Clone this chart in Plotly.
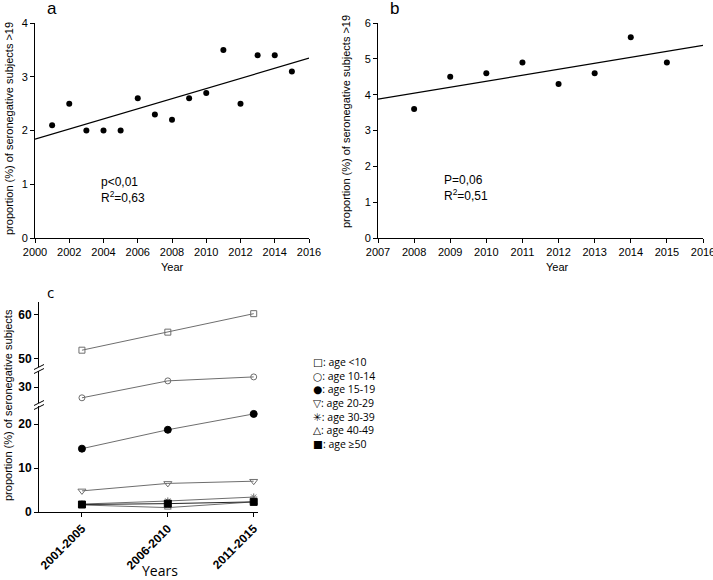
import numpy as np
import plotly.graph_objects as go

W, H = 713, 580

# ---------------- data ----------------
years_a = [2001, 2002, 2003, 2004, 2005, 2006, 2007, 2008, 2009, 2010, 2011, 2012, 2013, 2014, 2015]
prop_a = [2.1, 2.5, 2.0, 2.0, 2.0, 2.6, 2.3, 2.2, 2.6, 2.7, 3.5, 2.5, 3.4, 3.4, 3.1]

years_b = [2008, 2009, 2010, 2011, 2012, 2013, 2014, 2015]
prop_b = [3.6, 4.5, 4.6, 4.9, 4.3, 4.6, 5.6, 4.9]

periods = ["2001-2005", "2006-2010", "2011-2015"]
age_lt10 = [52.0, 56.1, 60.3]
age_10_14 = [27.0, 31.7, 32.8]
age_15_19 = [14.4, 18.7, 22.3]
age_20_29 = [4.8, 6.5, 7.0]
age_30_39 = [1.8, 2.5, 3.4]
age_40_49 = [1.6, 1.0, 2.3]
age_ge50 = [1.7, 1.9, 2.3]

stats_a = ["p<0,01", "R<sup>2</sup>=0,63"]
stats_b = ["P=0,06", "R<sup>2</sup>=0,51"]

leg_labels = ["age <10", "age 10-14", "age 15-19", "age 20-29", "age 30-39", "age 40-49", "age \u226550"]
leg_syms = ["\u25a1", "\u25cb", "\u25cf", "\u25bd", "\u2733", "\u25b3", "\u25a0"]


def px(x):
    return x / W


def py(y):
    return 1 - y / H


fig = go.Figure()

AX = "#000000"
TF = dict(family="Liberation Sans, Arial, sans-serif", size=11, color="#000")

# ---------------- panel a ----------------
fig.add_trace(go.Scatter(x=years_a, y=prop_a, mode="markers",
                         marker=dict(color="black", size=6), xaxis="x", yaxis="y",
                         showlegend=False))
ka = np.polyfit(years_a, prop_a, 1)
xa = np.array([2000, 2016])
fig.add_trace(go.Scatter(x=xa, y=np.polyval(ka, xa), mode="lines",
                         line=dict(color="black", width=1.2), xaxis="x", yaxis="y",
                         showlegend=False))

# ---------------- panel b ----------------
fig.add_trace(go.Scatter(x=years_b, y=prop_b, mode="markers",
                         marker=dict(color="black", size=6), xaxis="x2", yaxis="y2",
                         showlegend=False))
kb = np.polyfit(years_b, prop_b, 1)
xb = np.array([2007, 2016])
fig.add_trace(go.Scatter(x=xb, y=np.polyval(kb, xb), mode="lines",
                         line=dict(color="black", width=1.2), xaxis="x2", yaxis="y2",
                         showlegend=False))

# ---------------- panel c ----------------
GREY = "#6e6e6e"
xi = [0, 1, 2]
series_c = [
    (age_lt10, "square-open", GREY, "y5", 6, GREY),
    (age_10_14, "circle-open", GREY, "y4", 6, GREY),
    (age_15_19, "circle", "black", "y3", 7, GREY),
    (age_20_29, "triangle-down-open", GREY, "y3", 7, GREY),
    (age_30_39, "asterisk-open", GREY, "y3", 6, GREY),
    (age_40_49, "triangle-up-open", GREY, "y3", 6, GREY),
    (age_ge50, "square", "black", "y3", 7, "#222222"),
]
for vals, sym, mcol, yax, size, lcol in series_c:
    fig.add_trace(go.Scatter(x=xi, y=vals, mode="lines+markers",
                             line=dict(color=lcol, width=1),
                             marker=dict(symbol=sym, color=mcol, size=size,
                                         line=dict(color=mcol, width=1)),
                             xaxis="x3", yaxis=yax, showlegend=False))

common = dict(showline=True, linecolor=AX, linewidth=1, ticks="outside", ticklen=4,
              tickcolor=AX, showgrid=False, zeroline=False, tickfont=TF)

cbold = dict(family="Liberation Sans, Arial, sans-serif", size=12, color="#000", weight="bold")
ccommon = dict(showline=True, linecolor=AX, linewidth=1, ticks="outside", ticklen=4,
               tickcolor=AX, showgrid=False, zeroline=False, tickfont=cbold)

fig.update_layout(
    width=W, height=H, margin=dict(l=0, r=0, t=0, b=0, autoexpand=False),
    paper_bgcolor="white", plot_bgcolor="white",
    xaxis=dict(domain=[px(35), px(309)], range=[2000, 2016], dtick=2, anchor="y", **common),
    yaxis=dict(domain=[py(238), py(23)], range=[0, 4], dtick=1, anchor="x", **common),
    xaxis2=dict(domain=[px(378), px(703)], range=[2007, 2016], dtick=1, anchor="y2",
                ticklabeloverflow="allow", **common),
    yaxis2=dict(domain=[py(238), py(23)], range=[0, 6], dtick=1, anchor="x2", **common),
    xaxis3=dict(domain=[px(39), px(258)], range=[-0.5, 2.05], anchor="y3",
                tickvals=xi, ticktext=periods, tickangle=-45, **ccommon),
    yaxis3=dict(domain=[py(512), py(406)], range=[0, 24.1], tickvals=[0, 10, 20],
                anchor="x3", **ccommon),
    yaxis4=dict(domain=[py(403), py(371)], range=[25.56, 34.44], tickvals=[30],
                anchor="x3", **ccommon),
    yaxis5=dict(domain=[py(367), py(302)], range=[48.18, 62.95], tickvals=[50, 60],
                anchor="x3", **ccommon),
)

ann = []


def A(x, y, text, font, **kw):
    d = dict(x=px(x), y=py(y), xref="paper", yref="paper", text=text, showarrow=False,
             font=font, xanchor="center", yanchor="middle")
    d.update(kw)
    ann.append(d)


# panel letters
A(52, 9, "a", dict(family="Liberation Sans, Arial", size=17, color="#000"))
A(394, 9, "b", dict(family="Liberation Sans, Arial", size=17, color="#000"))
A(50, 292, "c", dict(family="Open Sans, sans-serif", size=15, color="#000"))

# axis titles
A(9, 129, "proportion (%) of seronegative subjects >19", TF, textangle=-90)
A(346, 122, "proportion (%) of seronegative subjects >19", TF, textangle=-90)
A(172, 267, "Year", TF)
A(557, 267, "Year", TF)
A(8, 405, "proportion (%) of seronegative subjects", dict(family="Liberation Sans, Arial", size=11, color="#000"), textangle=-90)
A(160, 570, "Years", dict(family="Open Sans, sans-serif", size=14, color="#000"))

# stats
sf = dict(family="Liberation Sans, Arial", size=12, color="#000")
A(99, 182, stats_a[0], sf, xanchor="left")
A(99, 197, stats_a[1], sf, xanchor="left")
A(442, 180, stats_b[0], sf, xanchor="left")
A(442, 195, stats_b[1], sf, xanchor="left")

# legend (one multi-line text block)
leg_text = "<br>".join(f"<span style='font-family:DejaVu Sans'>{s}</span>: {lab}"
                       for s, lab in zip(leg_syms, leg_labels))
A(311, 403, leg_text, dict(family="Open Sans, Noto Sans, sans-serif", size=10.5, color="#000"),
  xanchor="left", align="left")

fig.update_layout(annotations=ann)

# axis break marks
shapes = []
for yb in (369, 405):
    for off in (-2, 2):
        shapes.append(dict(type="line", xref="paper", yref="paper",
                           x0=px(34), y0=py(yb + off + 2.5), x1=px(44), y1=py(yb + off - 2.5),
                           line=dict(color="black", width=1)))
fig.update_layout(shapes=shapes)

fig.write_html("out.html", config={"displayModeBar": False},
               post_script="document.body.style.margin='0';")
